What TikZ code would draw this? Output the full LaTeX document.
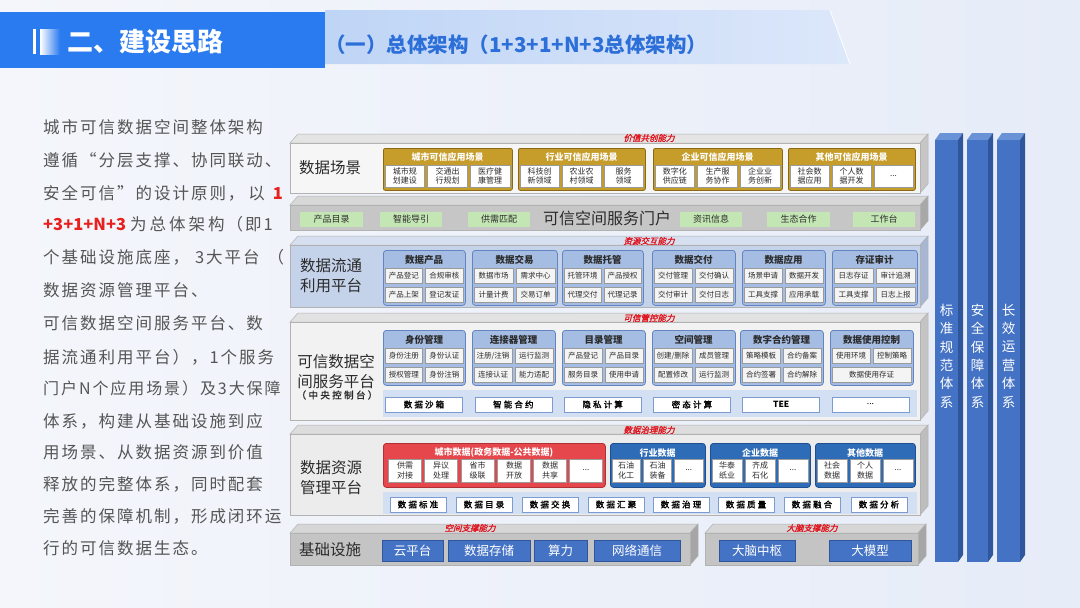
\documentclass[tikz,border=0pt]{standalone}
\usepackage{fontspec}
\setmainfont{Noto Sans CJK SC}
\newfontfamily\capfont{Noto Sans CJK SC}[FakeSlant=0.25,FakeBold=1.5]
\newfontfamily\bodyfont{Noto Sans CJK SC}[LetterSpace=12]
\newfontfamily\bandfont{Noto Sans CJK SC}[FakeBold=1.5,LetterSpace=25]
\newfontfamily\plainfont{Noto Sans CJK SC}
\definecolor{bgl}{HTML}{F4F6FB}
\definecolor{bgr}{HTML}{E6ECF8}
\definecolor{hdrblue}{HTML}{2A7AF0}
\definecolor{subtblue}{HTML}{2C6FD8}
\definecolor{panell}{HTML}{BFD5F6}
\definecolor{panelr}{HTML}{DCE7FA}
\definecolor{bodygray}{HTML}{555555}
\definecolor{redtxt}{HTML}{E8201E}
\definecolor{capred}{HTML}{E0141E}
\definecolor{txtdark}{HTML}{2B2B2B}
\definecolor{subline}{HTML}{9A9A9A}
\definecolor{subfill}{HTML}{F4F4F4}
\definecolor{gold}{HTML}{C69C2A}
\definecolor{goldd}{HTML}{8A6A14}
\definecolor{grpblue}{HTML}{A6BDE3}
\definecolor{grpblued}{HTML}{6384C2}
\definecolor{bandc}{HTML}{D3DFF3}
\definecolor{bandline}{HTML}{7C9BD0}
\definecolor{dkblue}{HTML}{2E6CB8}
\definecolor{dkblued}{HTML}{1F4F8E}
\definecolor{red1}{HTML}{E6474C}
\definecolor{red1d}{HTML}{B03035}
\definecolor{green1}{HTML}{C4E6B4}
\definecolor{colf}{HTML}{4472C4}
\definecolor{colside}{HTML}{2F569A}
\definecolor{coltop}{HTML}{6A92D6}
\definecolor{lAfront}{HTML}{F6F6F6}
\definecolor{lAtop}{HTML}{E4E4E4}
\definecolor{lAside}{HTML}{C6C6C6}
\definecolor{lBfront}{HTML}{C6C6C6}
\definecolor{lBtop}{HTML}{D8D8D8}
\definecolor{lBside}{HTML}{A8A8A8}
\definecolor{lCfront}{HTML}{C4D2EA}
\definecolor{lCtop}{HTML}{D7E0F0}
\definecolor{lCside}{HTML}{A6B6D3}
\definecolor{lDfront}{HTML}{F2F2F2}
\definecolor{lDtop}{HTML}{E2E2E2}
\definecolor{lDside}{HTML}{C4C4C4}
\definecolor{lEfront}{HTML}{ECECEC}
\definecolor{lEtop}{HTML}{DDDDDD}
\definecolor{lEside}{HTML}{BDBDBD}
\definecolor{lFfront}{HTML}{C4C4C4}
\definecolor{lFtop}{HTML}{D6D6D6}
\definecolor{lFside}{HTML}{A6A6A6}

% slab: x1 y1 x2 y2 front top side
\newcommand\Slab[7]{%
  \filldraw[fill=#6, draw=black!30, line width=0.5pt] (#1,#2) -- (#1+8,#2-9) -- (#3+8,#2-9) -- (#3,#2) -- cycle;
  \filldraw[fill=#7, draw=black!30, line width=0.5pt] (#3,#2) -- (#3+8,#2-9) -- (#3+8,#4-9) -- (#3,#4) -- cycle;
  \filldraw[fill=#5, draw=black!30, line width=0.5pt] (#1,#2) rectangle (#3,#4);
}
% 2x2 group: L R T title a b c d
\newcommand\GrpB[8]{%
  \node[grpbox, minimum width={#2-#1}, minimum height=55pt, anchor=north west] (gb#1-#3) at (#1,#3) {};
  \node[gtitle] (gt#1-#3) at ({(#1+#2)/2},#3+9.5) {#4};
  \node[sub, minimum width={(#2-#1-7)/2}, minimum height=15pt] (sa#1-#3) at ({#1+2+(#2-#1-7)/4},#3+26) {#5};
  \node[sub, minimum width={(#2-#1-7)/2}, minimum height=15pt] (sb#1-#3) at ({#2-2-(#2-#1-7)/4},#3+26) {#6};
  \node[sub, minimum width={(#2-#1-7)/2}, minimum height=15pt] (sc#1-#3) at ({#1+2+(#2-#1-7)/4},#3+44.5) {#7};
  \node[sub, minimum width={(#2-#1-7)/2}, minimum height=15pt] (sd#1-#3) at ({#2-2-(#2-#1-7)/4},#3+44.5) {#8};
}
% gold group: L R title a b c
\newcommand\GrpG[6]{%
  \node[goldbox, minimum width={#2-#1}, minimum height=42pt, anchor=north west] (gg#1) at (#1,148) {};
  \node[wtitle] (ggt#1) at ({(#1+#2)/2},157) {#3};
  \node[wsub, minimum width={(#2-#1-10)/3}, minimum height=22pt] (gga#1) at ({#1+2+(#2-#1-10)/6},176) {#4};
  \node[wsub, minimum width={(#2-#1-10)/3}, minimum height=22pt] (ggb#1) at ({(#1+#2)/2},176) {#5};
  \node[wsub, minimum width={(#2-#1-10)/3}, minimum height=22pt] (ggc#1) at ({#2-2-(#2-#1-10)/6},176) {#6};
}
% dark blue data group: L R title a b c
\newcommand\GrpD[6]{%
  \node[dkbox, minimum width={#2-#1}, minimum height=44pt, anchor=north west] (gd#1) at (#1,443) {};
  \node[wtitle] (gdt#1) at ({(#1+#2)/2},453) {#3};
  \node[wsub, minimum width={(#2-#1-10)/3}, minimum height=23pt] (gda#1) at ({#1+2+(#2-#1-10)/6},470.5) {#4};
  \node[wsub, minimum width={(#2-#1-10)/3}, minimum height=23pt] (gdb#1) at ({(#1+#2)/2},470.5) {#5};
  \node[wsub, minimum width={(#2-#1-10)/3}, minimum height=23pt] (gdc#1) at ({#2-2-(#2-#1-10)/6},470.5) {#6};
}
% column: x1 x2 name text
\newcommand\Col[4]{%
  \fill[coltop] (#1,140) -- (#1+5,133) -- (#2+5,133) -- (#2,140) -- cycle;
  \fill[colside] (#2,140) -- (#2+5,133) -- (#2+5,555) -- (#2,562) -- cycle;
  \fill[colf] (#1,140) rectangle (#2,562);
  \node[coltext] (#3) at ({(#1+#2)/2},356) {#4};
}
\newcommand\redrun[1]{{\plainfont\bfseries\color{redtxt}#1}}
\newcommand\dotsym{{\plainfont ...}}

\begin{document}
\begin{tikzpicture}[x=1pt,y=-1pt,
  lbl/.style={font=\fontsize{15.5}{20}\selectfont, text=txtdark, align=center, inner sep=0pt},
  captxt/.style={font=\capfont\fontsize{8.5}{10}\selectfont, text=capred, inner sep=0pt},
  sub/.style={draw=subline, fill=subfill, line width=0.5pt, inner sep=0pt, font=\fontsize{7.5}{9}\selectfont, text=txtdark, align=center},
  wsub/.style={sub, fill=white, font=\fontsize{8}{9.3}\selectfont},
  grpbox/.style={draw=grpblued, fill=grpblue, rounded corners=3pt, line width=0.8pt, inner sep=0pt},
  goldbox/.style={draw=goldd, fill=gold, rounded corners=2pt, line width=0.8pt, inner sep=0pt},
  dkbox/.style={draw=dkblued, fill=dkblue, rounded corners=3pt, line width=0.8pt, inner sep=0pt},
  redbox/.style={draw=red1d, fill=red1, rounded corners=3pt, line width=0.8pt, inner sep=0pt},
  gtitle/.style={font=\bfseries\fontsize{9.5}{11}\selectfont, text=txtdark, inner sep=0pt},
  wtitle/.style={font=\bfseries\fontsize{9}{11}\selectfont, text=white, inner sep=0pt},
  grn/.style={fill=green1, inner sep=0pt, minimum height=15pt, font=\fontsize{9}{10}\selectfont, text=txtdark},
  bbox/.style={draw=bandline, fill=white, line width=0.6pt, inner sep=0pt, minimum height=15pt, font=\bandfont\fontsize{8.5}{10}\selectfont, text=black},
  basebox/.style={fill=colf, draw=colside, line width=0.5pt, inner sep=0pt, minimum height=21pt, text=white, font=\fontsize{12.5}{14}\selectfont},
  coltext/.style={font=\fontsize{13.5}{18.4}\selectfont, text=white, align=center, inner sep=0pt},
  bodytxt/.style={font=\bodyfont\fontsize{16.5}{18}\selectfont, text=bodygray, anchor=west, inner sep=0pt},
]
\useasboundingbox (0,0) rectangle (1080,608);
\shade[left color=bgl, right color=bgr] (0,0) rectangle (1080,608);

% ---------- header ----------
\shade[left color=panell, right color=panelr] (325,10) -- (830,10) -- (850,64) -- (325,64) -- cycle;
\draw[white, line width=0.8pt] (830,10) -- (850,64);
\fill[hdrblue] (0,12) rectangle (325,68);
\fill[white] (33,29) rectangle (36,54);
\shade[left color=white, right color=hdrblue] (40,29) rectangle (60,54);
\node[font=\bfseries\fontsize{26}{28}\selectfont, text=white, anchor=west, inner sep=0pt] (h1) at (67,42) {二、建设思路};
\node[font=\bfseries\fontsize{20.5}{22}\selectfont, text=subtblue, anchor=west, inner sep=0pt] (h2) at (325,45) {（一）总体架构（1+3+1+N+3总体架构）};

% ---------- left text ----------
\node[bodytxt] (t1) at (43,127) {城市可信数据空间整体架构};
\node[bodytxt] (t2) at (43,160) {遵循“分层支撑、协同联动、};
\node[bodytxt] (t3) at (43,193) {安全可信”的设计原则，\hspace{4pt}以\hspace{8pt}\redrun{1}};
\node[bodytxt] (t4) at (43,224) {\redrun{+3+1+N+3}\hspace{4pt}为\hspace{3pt}总\hspace{3pt}体\hspace{3pt}架\hspace{3pt}构（即1};
\node[bodytxt] (t5) at (43,257) {个基础设施底座，\hspace{6pt}3大平台\hspace{8pt}（};
\node[bodytxt] (t6) at (43,290) {数据资源管理平台、};
\node[bodytxt] (t7) at (43,323) {可信数据空间服务平台、数};
\node[bodytxt] (t8) at (43,357) {据流通利用平台），1个服务};
\node[bodytxt, font=\bodyfont\fontsize{16}{18}\selectfont] (t9) at (43,388) {门户N个应用场景）及3大保障};
\node[bodytxt] (t10) at (43,421) {体系，构建从基础设施到应};
\node[bodytxt] (t11) at (43,452) {用场景、从数据资源到价值};
\node[bodytxt] (t12) at (43,484) {释放的完整体系，同时配套};
\node[bodytxt] (t13) at (43,516) {完善的保障机制，形成闭环运};
\node[bodytxt] (t14) at (43,548) {行的可信数据生态。};

% ---------- layer 1: 数据场景 ----------
\Slab{290}{143}{920}{193}{lAfront}{lAtop}{lAside}
\node[captxt] (c1) at (649,138) {价值共创能力};
\node[lbl] (L1) at (330,168) {数据场景};
\GrpG{383}{512}{城市可信应用场景}{城市规\\划建设}{交通出\\行规划}{医疗健\\康管理}
\GrpG{518}{645}{行业可信应用场景}{科技创\\新领域}{农业农\\村领域}{服务\\领域}
\GrpG{653}{782}{企业可信应用场景}{数字化\\供应链}{生产服\\务协作}{企业业\\务创新}
\GrpG{788}{915}{其他可信应用场景}{社会数\\据应用}{个人数\\据开发}{\dotsym}

% ---------- layer 2: 门户 ----------
\Slab{290}{205}{920}{230}{lBfront}{lBtop}{lBside}
\node[grn, minimum width=63pt] (p1) at (331.5,219.5) {产品目录};
\node[grn, minimum width=62pt] (p2) at (411,219.5) {智能导引};
\node[grn, minimum width=62pt] (p3) at (499,219.5) {供需匹配};
\node[font=\fontsize{16}{18}\selectfont, text=txtdark, inner sep=0pt] (L2) at (607,218) {可信空间服务门户};
\node[grn, minimum width=62pt] (p4) at (711,219.5) {资讯信息};
\node[grn, minimum width=63pt] (p5) at (798.5,219.5) {生态合作};
\node[grn, minimum width=62pt] (p6) at (884,219.5) {工作台};

% ---------- layer 3: 数据流通利用平台 ----------
\Slab{290}{245}{920}{307}{lCfront}{lCtop}{lCside}
\node[captxt] (c3) at (649,241) {资源交互能力};
\node[lbl] (L3) at (331,276) {数据流通\\利用平台};
\GrpB{383}{465}{250}{数据产品}{产品登记}{合规审核}{产品上架}{登记发证}
\GrpB{472}{557}{250}{数据交易}{数据市场}{需求中心}{计量计费}{交易订单}
\GrpB{562}{643}{250}{数据托管}{托管环境}{产品授权}{代理交付}{代理记录}
\GrpB{652}{735}{250}{数据交付}{交付管理}{交付确认}{交付审计}{交付日志}
\GrpB{742}{825}{250}{数据应用}{场景申请}{数据开发}{工具支撑}{应用承载}
\GrpB{832}{917}{250}{存证审计}{日志存证}{审计追溯}{工具支撑}{日志上报}

% ---------- layer 4: 可信数据空间服务平台 ----------
\Slab{290}{322}{920}{420}{lDfront}{lDtop}{lDside}
\node[captxt] (c4) at (649,318) {可信管控能力};
\node[lbl] (L4) at (336,372) {可信数据空\\间服务平台};
\node[font=\bandfont\fontsize{9.5}{12}\selectfont, text=txtdark, inner sep=0pt] (L4b) at (337,395) {（中央控制台）};
\GrpB{383}{465}{330}{身份管理}{身份注册}{身份认证}{授权管理}{身份注销}
\GrpB{472}{555}{330}{连接器管理}{注册/注销}{运行监测}{连接认证}{能力适配}
\GrpB{562}{645}{330}{目录管理}{产品登记}{产品目录}{服务目录}{使用申请}
\GrpB{652}{735}{330}{空间管理}{创建/删除}{成员管理}{配置修改}{运行监测}
\GrpB{740}{823}{330}{数字合约管理}{策略模板}{合约备案}{合约签署}{合约解除}
\node[grpbox, minimum width=83pt, minimum height=55pt, anchor=north west] (gb830) at (830,330) {};
\node[gtitle] (gt830) at (871.5,339.5) {数据使用控制};
\node[sub, minimum width=38pt, minimum height=15pt] (s830a) at (851,356) {使用环境};
\node[sub, minimum width=38pt, minimum height=15pt] (s830b) at (892,356) {控制策略};
\node[sub, minimum width=79pt, minimum height=15pt] (s830c) at (871.5,374.5) {数据使用存证};
\fill[bandc] (383,390) rectangle (917,417);
\node[bbox, minimum width=77pt] (k1) at (424,404.5) {数据沙箱};
\node[bbox, minimum width=77pt] (k2) at (513.3,404.5) {智能合约};
\node[bbox, minimum width=77pt] (k3) at (602.6,404.5) {隐私计算};
\node[bbox, minimum width=77pt] (k4) at (691.9,404.5) {密态计算};
\node[bbox, minimum width=77pt] (k5) at (781.2,404.5) {\plainfont\bfseries TEE};
\node[bbox, minimum width=77pt] (k6) at (870.5,404.5) {\dotsym};

% ---------- layer 5: 数据资源管理平台 ----------
\Slab{290}{434}{920}{515}{lEfront}{lEtop}{lEside}
\node[captxt] (c5) at (649,430) {数据治理能力};
\node[lbl] (L5) at (331,478) {数据资源\\管理平台};
\node[redbox, minimum width=222pt, minimum height=44pt, anchor=north west] (gr) at (383,443) {};
\node[wtitle] (grt) at (494,453) {城市数据(政务数据-公共数据)};
\node[wsub, minimum width=33pt, minimum height=23pt] (r1) at (405,470.5) {供需\\对接};
\node[wsub, minimum width=33pt, minimum height=23pt] (r2) at (441,470.5) {异议\\处理};
\node[wsub, minimum width=33pt, minimum height=23pt] (r3) at (477.5,470.5) {省市\\级联};
\node[wsub, minimum width=33pt, minimum height=23pt] (r4) at (514,470.5) {数据\\开放};
\node[wsub, minimum width=33pt, minimum height=23pt] (r5) at (550,470.5) {数据\\共享};
\node[wsub, minimum width=33pt, minimum height=23pt] (r6) at (586,470.5) {\dotsym};
\GrpD{610}{705}{行业数据}{石油\\化工}{石油\\装备}{\dotsym}
\GrpD{710}{810}{企业数据}{华泰\\纸业}{齐成\\石化}{\dotsym}
\GrpD{815}{915}{其他数据}{社会\\数据}{个人\\数据}{\dotsym}
\fill[bandc] (383,492) rectangle (917,514);
\node[bbox, minimum width=56pt] (e1) at (418,504.5) {数据标准};
\node[bbox, minimum width=56pt] (e2) at (484,504.5) {数据目录};
\node[bbox, minimum width=56pt] (e3) at (550,504.5) {数据交换};
\node[bbox, minimum width=56pt] (e4) at (616,504.5) {数据汇聚};
\node[bbox, minimum width=56pt] (e5) at (681,504.5) {数据治理};
\node[bbox, minimum width=56pt] (e6) at (746,504.5) {数据质量};
\node[bbox, minimum width=56pt] (e7) at (812,504.5) {数据融合};
\node[bbox, minimum width=56pt] (e8) at (879,504.5) {数据分析};

% ---------- layer 6: 基础设施 ----------
\Slab{290}{533}{690}{565}{lFfront}{lFtop}{lFside}
\Slab{705}{533}{918}{565}{lFfront}{lFtop}{lFside}
\node[captxt] (c6a) at (470,528) {空间支撑能力};
\node[captxt] (c6b) at (812,528) {大脑支撑能力};
\node[lbl] (L6) at (330,550) {基础设施};
\node[basebox, minimum width=61pt] (b1) at (412.5,550.5) {云平台};
\node[basebox, minimum width=82pt] (b2) at (489,550.5) {数据存储};
\node[basebox, minimum width=53pt] (b3) at (560.5,550.5) {算力};
\node[basebox, minimum width=86pt] (b4) at (637,550.5) {网络通信};
\node[basebox, minimum width=76pt] (b5) at (757,550.5) {大脑中枢};
\node[basebox, minimum width=82pt] (b6) at (870,550.5) {大模型};

% ---------- right columns ----------
\Col{935}{958}{col1}{标\\准\\规\\范\\体\\系}
\Col{967}{988}{col2}{安\\全\\保\\障\\体\\系}
\Col{997}{1020}{col3}{长\\效\\运\\营\\体\\系}
\end{tikzpicture}
\end{document}
